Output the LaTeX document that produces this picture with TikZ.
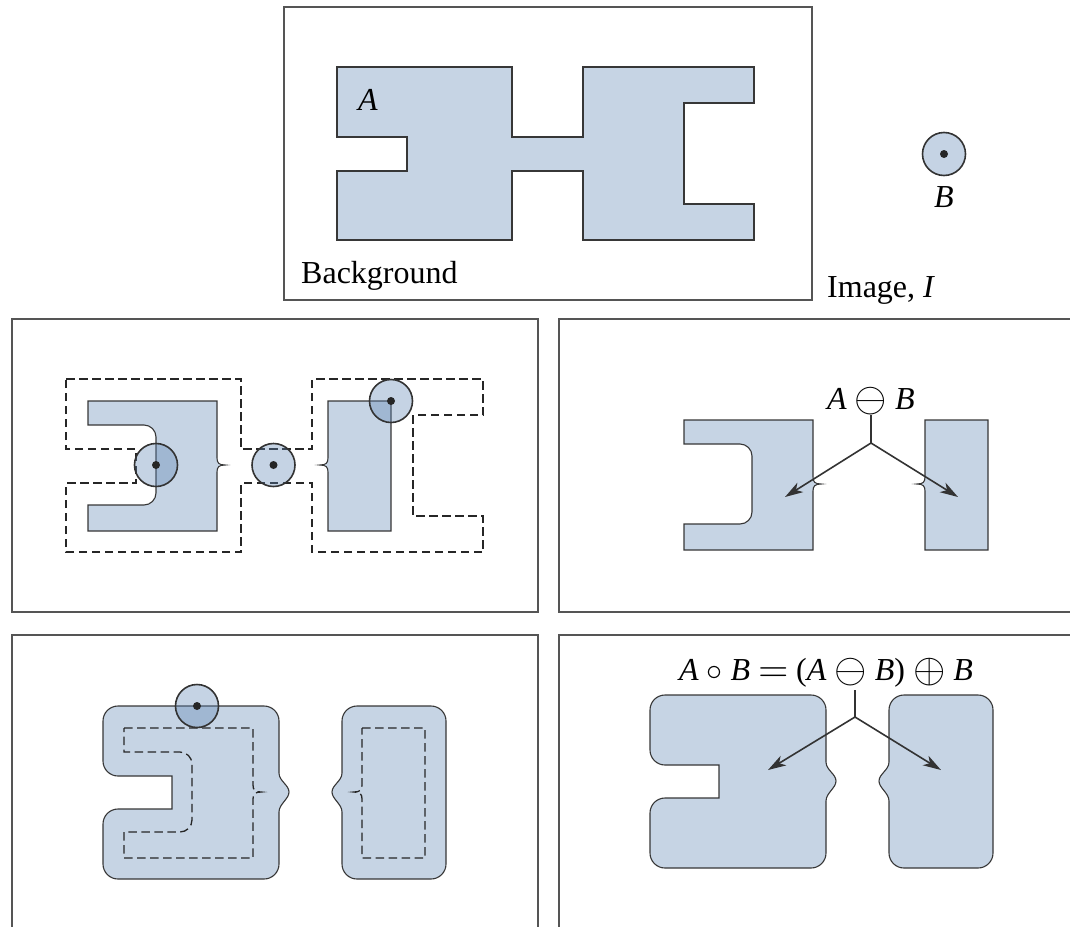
\RequirePackage{fix-cm}
\documentclass[tikz,border=0pt]{standalone}
\usepackage{graphicx}
\usepackage{fontspec}
\setmainfont{Liberation Serif}
\usetikzlibrary{arrows.meta}
\definecolor{shapefill}{RGB}{198,212,228}
\definecolor{shapeline}{RGB}{55,55,55}
\definecolor{framecol}{RGB}{85,85,85}
\definecolor{discfill}{RGB}{94,133,180}
\newcommand{\bigsym}[1]{\raisebox{-0.075em}{\scalebox{1.3}{$#1$}}}
\tikzset{
 shapeA/.pic={\path[pic actions] (0,0) -- (175,0) -- (175,70) -- (246,70) -- (246,0) -- (417,0) -- (417,36) -- (347,36) -- (347,137) -- (417,137) -- (417,173) -- (246,173) -- (246,104) -- (175,104) -- (175,173) -- (0,173) -- (0,104) -- (70,104) -- (70,70) -- (0,70) -- cycle;},
 erodedL/.pic={\path[pic actions] (0,0) -- (129,0) -- (129,57) .. controls (129,62) and (131,64) .. (137,64) .. controls (131,64) and (129,66) .. (129,71) -- (129,130) -- (0,130) -- (0,104) -- (56,104) .. controls (62.6,104) and (68,98.6) .. (68,92) -- (68,36) .. controls (68,29.4) and (62.6,24) .. (56,24) -- (0,24) -- cycle;},
 erodedR/.pic={\path[pic actions] (0,0) -- (63,0) -- (63,130) -- (0,130) -- (0,71) .. controls (0,66) and (-2,64) .. (-8,64) .. controls (-2,64) and (0,62) .. (0,57) -- cycle;},
 openL/.pic={\path[pic actions] (15,0) -- (161,0) .. controls (169.3,0) and (176,6.7) .. (176,15)
   -- (176,67) .. controls (176,75) and (186,79) .. (186,86) .. controls (186,93) and (176,98) .. (176,106)
   -- (176,158) .. controls (176,166.3) and (169.3,173) .. (161,173)
   -- (15,173) .. controls (6.7,173) and (0,166.3) .. (0,158)
   -- (0,118) .. controls (0,109.7) and (6.7,103) .. (15,103)
   -- (69,103) -- (69,70) -- (15,70) .. controls (6.7,70) and (0,63.3) .. (0,55)
   -- (0,15) .. controls (0,6.7) and (6.7,0) .. (15,0) -- cycle;},
 openR/.pic={\path[pic actions] (15,0) -- (89,0) .. controls (97.3,0) and (104,6.7) .. (104,15)
   -- (104,158) .. controls (104,166.3) and (97.3,173) .. (89,173)
   -- (15,173) .. controls (6.7,173) and (0,166.3) .. (0,158)
   -- (0,106) .. controls (0,98) and (-10,93) .. (-10,86) .. controls (-10,79) and (0,75) .. (0,67)
   -- (0,15) .. controls (0,6.7) and (6.7,0) .. (15,0) -- cycle;}
}
\begin{document}
\begin{tikzpicture}[x=1pt,y=-1pt,
 frame/.style={draw=framecol,line width=1.4pt},
 region/.style={fill=shapefill,draw=shapeline,line width=1.1pt},
 outline/.style={draw=black!85,line width=1.3pt,dash pattern=on 8.5pt off 4.5pt},
 disc/.style={circle,minimum size=43pt,inner sep=0pt,draw=black!80,line width=1.6pt,fill=discfill,fill opacity=0.36},
 centre/.style={circle,minimum size=8pt,inner sep=0pt,fill=black!85},
 pointer/.style={draw=black!80,line width=1.6pt},
 arrowed/.style={pointer,-{Stealth[length=18pt,width=11pt,inset=5pt]}},
 lbl/.style={font=\fontsize{32}{38}\selectfont,inner sep=0pt}]
\useasboundingbox (0,0) rectangle (1070,926);
\clip (0,0) rectangle (1070,926);

% frames
\draw[frame] (284,7) rectangle (812,300);
\draw[frame] (12,319) rectangle (538,612);
\draw[frame] (559,319) rectangle (1090,612);
\draw[frame] (12,635) rectangle (538,950);
\draw[frame] (559,635) rectangle (1090,950);

% panel 1: image
\pic[region] at (337,67) {shapeA};
\node[lbl,anchor=base west] (lA) at (358,110) {\textit{A}};
\node[lbl,anchor=base west] (lbg) at (301,283) {Background};
\node[disc] (B0) at (944,154) {};
\node[centre] (B0c) at (944,154) {};
\node[lbl,anchor=base] (lB) at (944,207) {\textit{B}};
\node[lbl,anchor=base west] (lI) at (827,297) {Image, \textit{I}};

% panel 2: erosion process
\pic[outline] at (66,379) {shapeA};
\pic[region] at (88,401) {erodedL};
\pic[region] at (328,401) {erodedR};
\node[disc] (c1) at (156,465) {};
\node[centre] (c1c) at (156,465) {};
\node[disc] (c2) at (273.5,465) {};
\node[centre] (c2c) at (273.5,465) {};
\node[disc] (c3) at (391,401) {};
\node[centre] (c3c) at (391,401) {};

% panel 3: erosion result
\pic[region] at (684,420) {erodedL};
\pic[region] at (925,420) {erodedR};
\node[lbl,anchor=base] (l3) at (871,409) {\textit{A} \bigsym{\ominus} \textit{B}};
\coordinate (s3) at (871,415);
\coordinate (j3) at (871,443);
\coordinate (t3a) at (785,497);
\coordinate (t3b) at (958,497);
\draw[pointer] (s3) -- (j3);
\draw[arrowed] (j3) -- (t3a);
\draw[arrowed] (j3) -- (t3b);

% panel 4: dilation process
\pic[region] at (103,706) {openL};
\pic[region] at (342,706) {openR};
\pic[outline] at (124,728) {erodedL};
\pic[outline] at (362,728) {erodedR};
\node[disc] (c4) at (197,706) {};
\node[centre] (c4c) at (197,706) {};

% panel 5: opening result
\pic[region] at (650,695) {openL};
\pic[region] at (889,695) {openR};
\node[lbl,anchor=base] (l5) at (826,680) {\textit{A} $\circ$ \textit{B} \bigsym{=} (\textit{A} \bigsym{\ominus} \textit{B}) \bigsym{\oplus} \textit{B}};
\coordinate (s5) at (855,690);
\coordinate (j5) at (855,717);
\coordinate (t5a) at (768,770);
\coordinate (t5b) at (941,770);
\draw[pointer] (s5) -- (j5);
\draw[arrowed] (j5) -- (t5a);
\draw[arrowed] (j5) -- (t5b);
\end{tikzpicture}
\end{document}
